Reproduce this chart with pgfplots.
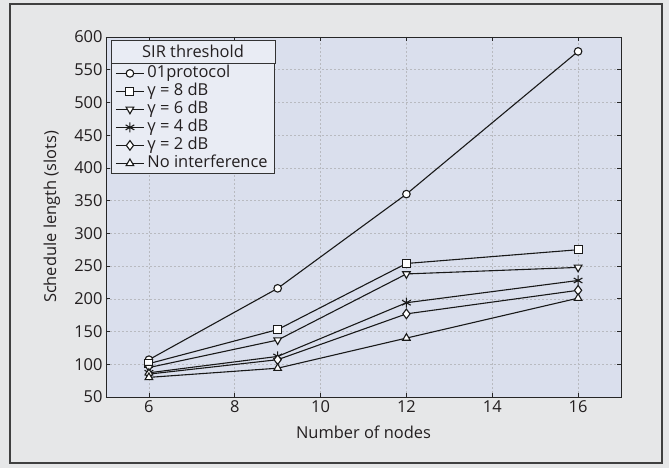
\documentclass[border=0pt]{standalone}
\usepackage{pgfplots}
\pgfplotsset{compat=1.18}
\usepackage{fontspec}
\setmainfont{Open Sans}
\usetikzlibrary{calc}
\definecolor{outerbg}{HTML}{E6E7E8}
\definecolor{axbg}{HTML}{DADFED}
\definecolor{legbg}{HTML}{E9ECF4}
\definecolor{gridc}{HTML}{B8BAC0}
\definecolor{txt}{HTML}{231F20}
\begin{document}
\begin{tikzpicture}[font=\fontsize{16.5}{19}\selectfont, text=txt]
\fill[outerbg] (-106bp,-71bp) rectangle (563bp,397bp);
\draw[line width=1.2bp, black!75] (-96bp,-66bp) rectangle (556bp,393bp);
\begin{axis}[
  at={(0,0)}, anchor=south west,
  scale only axis, width=515bp, height=360bp,
  xmin=5, xmax=17, ymin=50, ymax=600,
  xtick={6,8,...,16}, ytick={50,100,...,600},
  tick align=inside, major tick length=4bp,
  axis background/.style={fill=axbg},
  grid=major,
  major grid style={gridc, dash pattern=on 2bp off 2bp, line width=0.6bp},
  axis line style={line width=0.8bp, black!85},
  tick style={black!85, line width=0.8bp},
  /pgf/number format/assume math mode=true,
  ticklabel style={font=\fontsize{16.5}{19}\selectfont},
  label style={font=\fontsize{16.5}{19}\selectfont},
  xlabel={Number of nodes}, ylabel={Schedule length (slots)},
  xlabel style={at={(axis description cs:0.5,-0.097)}, anchor=center},
  ylabel style={at={(axis description cs:-0.105,0.5)}, anchor=center},
  every axis plot/.append style={line width=1.1bp, black!90, mark size=4.4bp},
  legend style={name=leg, at={(0.0097,0.9278)}, anchor=north west,
    fill=legbg, draw=black!80, line width=0.8bp, inner xsep=4bp, inner ysep=1bp,
    row sep=0pt, cells={anchor=west},
    nodes={inner xsep=3bp, inner ysep=1bp, text height=12bp, text depth=4bp},
    font=\fontsize{16.5}{19}\selectfont},
  legend image code/.code={\draw[mark repeat=2,mark phase=2,#1]
    plot coordinates {(0bp,0bp) (14bp,0bp) (28bp,0bp)};},
]
\addplot[mark=*, mark size=3.8bp, mark options={solid, fill=white}] coordinates {(6,107) (9,216) (12,360) (16,578)};
\addlegendentry{01protocol}
\addplot[mark=square*, mark size=4bp, mark options={solid, fill=white}] coordinates {(6,101) (9,153) (12,254) (16,275)};
\addlegendentry{γ = 8 dB}
\addplot[mark=triangle*, mark options={solid, fill=white, rotate=180}] coordinates {(6,95) (9,137) (12,238) (16,248)};
\addlegendentry{γ = 6 dB}
\addplot[mark=asterisk, mark size=5bp, mark options={solid}] coordinates {(6,87) (9,112) (12,194) (16,228)};
\addlegendentry{γ = 4 dB}
\addplot[mark=diamond*, mark size=4.8bp, mark options={solid, fill=white}] coordinates {(6,85) (9,107) (12,177) (16,213)};
\addlegendentry{γ = 2 dB}
\addplot[mark=triangle*, mark options={solid, fill=white}] coordinates {(6,80) (9,94) (12,140) (16,201)};
\addlegendentry{No interference}
\end{axis}
\draw[fill=legbg, draw=black!80, line width=0.8bp] (leg.north west) rectangle ($(leg.north east)+(0,23bp)$);
\node at ($(leg.north)+(0,11.5bp)$) {SIR threshold};
\end{tikzpicture}
\end{document}
